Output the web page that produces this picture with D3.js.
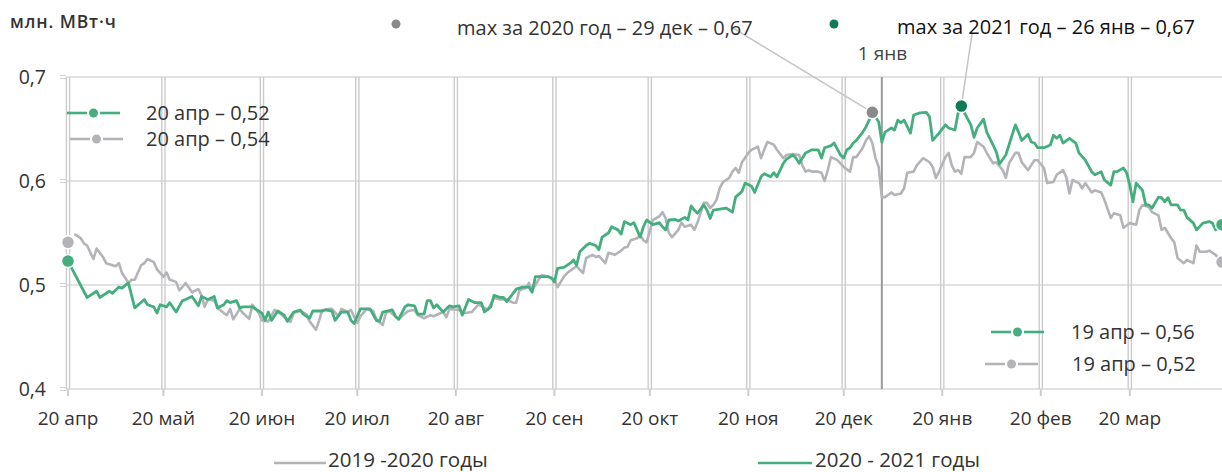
<!DOCTYPE html>
<html>
<head>
<meta charset="utf-8">
<script src="https://cdn.jsdelivr.net/npm/d3@7"></script>
<style>
  body { margin: 0; background: #fff; }
  svg { display: block; font-family: "Open Sans", "Noto Sans", sans-serif; }
</style>
</head>
<body>
<svg width="1222" height="472"></svg>
<script>
  // day offsets from 20 Apr 2020
  const greenDays = [0,6,7,9,10,13,14,16,17,19,20,21,24,25,27,28,29,31,32,34,36,37,39,41,42,44,46,47,49,50,51,53,54,55,57,58,61,62,63,64,66,68,69,71,73,74,76,77,80,81,83,84,86,88,89,90,92,95,97,98,99,102,103,104,106,107,109,110,112,113,114,115,116,118,120,121,123,124,126,128,130,131,133,134,136,137,138,140,141,143,145,146,147,149,151,152,153,154,156,158,159,160,161,163,164,166,167,168,170,171,173,174,175,177,178,179,180,181,182,184,186,187,188,189,191,192,194,195,196,197,198,200,201,202,203,205,207,209,210,212,213,215,216,218,219,221,222,223,225,226,228,229,230,232,234,236,237,238,240,241,243,244,245,246,247,248,250,251,252,253,255,256,257,259,260,261,262,263,265,266,268,270,271,272,274,276,277,279,280,281,282,284,285,286,288,289,291,292,293,295,296,298,299,300,302,303,304,305,307,309,310,311,312,313,315,317,318,320,322,323,325,326,328,329,330,332,333,334,335,336,338,339,340,341,343,344,345,346,347,349,350,351,352,354,355,357,359,360,361,363];
  const greenVals = [.523,.488,.490,.494,.488,.494,.492,.498,.497,.502,.490,.478,.486,.481,.479,.473,.481,.479,.483,.474,.485,.486,.489,.480,.489,.486,.489,.478,.481,.485,.483,.485,.478,.479,.479,.479,.473,.466,.474,.466,.475,.471,.465,.474,.476,.472,.468,.475,.475,.476,.475,.466,.474,.474,.466,.463,.477,.477,.466,.465,.474,.476,.470,.467,.479,.481,.480,.472,.472,.485,.485,.478,.481,.474,.480,.479,.480,.471,.486,.483,.483,.474,.479,.490,.488,.488,.484,.492,.496,.498,.498,.493,.508,.508,.508,.507,.503,.516,.517,.521,.524,.519,.532,.538,.540,.538,.534,.546,.550,.556,.553,.549,.561,.558,.560,.553,.546,.556,.5625,.558,.560,.556,.553,.5625,.563,.5615,.565,.5625,.576,.572,.569,.577,.572,.564,.572,.573,.574,.570,.5845,.590,.598,.595,.589,.604,.607,.604,.608,.604,.617,.621,.625,.622,.617,.627,.630,.630,.622,.632,.634,.6365,.625,.622,.630,.632,.6365,.639,.647,.652,.6585,.666,.657,.6375,.647,.651,.649,.6585,.656,.6585,.646,.6635,.6655,.666,.6615,.639,.646,.654,.651,.649,.6655,.672,.6655,.654,.642,.651,.6595,.647,.6346,.628,.6163,.625,.6346,.654,.647,.639,.645,.6375,.6365,.632,.632,.6346,.644,.641,.644,.6365,.641,.6365,.627,.620,.609,.606,.609,.601,.596,.609,.609,.6125,.608,.596,.580,.598,.591,.577,.577,.574,.5845,.584,.580,.584,.577,.577,.572,.572,.565,.5595,.553,.5595,.561,.5595,.553,.558];

  const greyDays = [2,4,5,6,8,9,11,12,14,15,16,17,19,20,21,23,24,25,27,28,30,31,32,34,35,36,37,39,41,42,43,44,46,47,49,50,51,52,54,55,57,58,60,61,63,65,67,68,70,71,73,75,76,78,79,80,82,83,85,86,88,89,91,92,94,96,97,99,100,101,104,105,107,109,110,112,114,115,118,119,120,123,125,127,129,130,132,134,136,138,140,141,142,144,145,146,148,149,151,153,154,156,157,159,160,162,163,165,166,167,169,170,172,174,175,176,177,179,180,181,182,184,186,187,188,189,190,192,193,194,196,197,198,200,201,202,203,204,205,206,208,209,210,211,212,214,215,217,218,219,220,222,223,225,226,228,230,231,232,233,234,236,237,238,239,240,242,244,246,247,248,250,251,252,253,254,255,256,257,259,260,262,263,264,266,267,269,271,272,273,274,276,277,278,279,280,281,282,284,285,286,288,289,291,292,294,295,296,298,299,300,302,304,305,307,308,310,311,313,314,315,316,318,319,320,322,323,325,326,328,329,331,332,334,336,337,338,340,341,343,344,345,347,348,349,351,352,354,355,356,358,359,361,363];
  const greyVals = [.549,.545,.540,.538,.525,.535,.527,.521,.519,.518,.521,.5115,.502,.505,.505,.519,.521,.525,.522,.515,.508,.512,.505,.503,.495,.498,.502,.493,.496,.490,.479,.486,.485,.478,.473,.471,.477,.467,.477,.473,.4675,.481,.473,.466,.465,.476,.472,.469,.4645,.473,.475,.472,.465,.457,.466,.476,.477,.477,.470,.477,.474,.476,.4635,.470,.477,.475,.467,.4615,.473,.475,.467,.470,.475,.476,.471,.468,.471,.470,.474,.469,.477,.476,.473,.474,.481,.480,.476,.4875,.486,.486,.483,.483,.495,.497,.502,.495,.505,.5095,.508,.505,.498,.508,.5115,.516,.518,.5115,.526,.529,.527,.528,.521,.531,.529,.533,.536,.5365,.543,.545,.548,.543,.541,.5625,.566,.570,.564,.550,.546,.553,.560,.556,.558,.553,.560,.579,.579,.574,.577,.582,.593,.599,.603,.609,.6125,.608,.618,.627,.630,.633,.622,.630,.6375,.635,.630,.622,.625,.626,.625,.615,.609,.6105,.609,.609,.608,.600,.6105,.623,.620,.6135,.609,.623,.623,.632,.639,.643,.6365,.622,.6135,.5845,.5845,.589,.5865,.588,.593,.608,.609,.615,.622,.618,.6135,.603,.609,.623,.627,.615,.609,.6105,.607,.623,.623,.627,.6375,.633,.627,.617,.618,.6105,.603,.617,.627,.627,.618,.6105,.620,.620,.6125,.598,.599,.606,.6105,.604,.588,.601,.598,.593,.598,.589,.591,.589,.582,.5645,.569,.567,.555,.5595,.558,.572,.577,.575,.570,.567,.553,.555,.545,.541,.526,.521,.524,.521,.538,.532,.532,.533,.529,.522];

  const greyStart = 0.541;
  const tickLabels = ["20 апр","20 май","20 июн","20 июл","20 авг","20 сен","20 окт","20 ноя","20 дек","20 янв","20 фев","20 мар"];
  const yTicks = [0.4, 0.5, 0.6, 0.7];
  const yLabels = ["0,4", "0,5", "0,6", "0,7"];
  const max2020Day = 253, max2021Day = 281, newYearDay = 256;

  const GREEN = "#45ae7f", GREY = "#b4b4b8", DARK = "#107a58", TEXT = "#333";

  const start = new Date(2020, 3, 20);
  const dayDate = d => d3.timeDay.offset(start, d);
  const x = d3.scaleTime().domain([start, dayDate(363)]).range([68, 1222]);
  const y = d3.scaleLinear().domain([0.4, 0.7]).range([389, 77]);

  const svg = d3.select("svg");

  // horizontal grid
  svg.selectAll(".hg").data(yTicks).enter().append("line")
    .attr("x1", 66).attr("x2", 1222)
    .attr("y1", d => y(d)).attr("y2", d => y(d))
    .attr("stroke", "#d9d9d9").attr("stroke-width", 1.6);
  // y tick marks
  [-1.5, 1.5].forEach(o => {
    svg.selectAll(null).data(yTicks).enter().append("line")
      .attr("x1", 60).attr("x2", 66)
      .attr("y1", d => y(d) + o).attr("y2", d => y(d) + o)
      .attr("stroke", "#cfcfcf").attr("stroke-width", 1);
  });

  // vertical grid (double lines)
  const tickDates = tickLabels.map((t, i) => new Date(2020, 3 + i, 20));
  [-1.6, 1.6].forEach(o => {
    svg.selectAll(null).data(tickDates).enter().append("line")
      .attr("x1", d => x(d) + o).attr("x2", d => x(d) + o)
      .attr("y1", 77).attr("y2", 389)
      .attr("stroke", "#cbcbcb").attr("stroke-width", 1.4);
  });
  svg.selectAll(null).data(tickDates).enter().append("line")
    .attr("x1", d => x(d)).attr("x2", d => x(d))
    .attr("y1", 389).attr("y2", 396)
    .attr("stroke", "#cdcdcd").attr("stroke-width", 2);

  // axis labels
  svg.selectAll(null).data(tickDates).enter().append("text")
    .attr("x", d => x(d)).attr("y", 425)
    .attr("text-anchor", "middle").attr("font-size", 19).attr("fill", TEXT)
    .text((d, i) => tickLabels[i]);
  svg.selectAll(null).data(yTicks).enter().append("text")
    .attr("x", 46).attr("y", d => y(d) + 7)
    .attr("text-anchor", "end").attr("font-size", 19.5).attr("fill", TEXT)
    .text((d, i) => yLabels[i]);

  svg.append("text").attr("x", 10).attr("y", 28)
    .attr("font-size", 17.5).attr("font-weight", 600).attr("fill", TEXT)
    .attr("letter-spacing", 0.9)
    .text("млн. МВт·ч");

  // 1 Jan marker
  svg.append("line")
    .attr("x1", x(dayDate(newYearDay))).attr("x2", x(dayDate(newYearDay)))
    .attr("y1", 77).attr("y2", 389)
    .attr("stroke", "#9a9a9a").attr("stroke-width", 2);
  svg.append("text").attr("x", x(dayDate(newYearDay)) - 24).attr("y", 60)
    .attr("font-size", 19).attr("fill", "#444").text("1 янв");

  // lines
  const line = d3.line().x(d => x(dayDate(d[0]))).y(d => y(d[1]));
  svg.append("path").datum(d3.zip(greyDays, greyVals))
    .attr("d", line).attr("fill", "none")
    .attr("stroke", GREY).attr("stroke-width", 2.6).attr("stroke-linejoin", "round");
  svg.append("path").datum(d3.zip(greenDays, greenVals))
    .attr("d", line).attr("fill", "none")
    .attr("stroke", GREEN).attr("stroke-width", 2.8).attr("stroke-linejoin", "round");

  // leader lines to maxima
  const g20 = greenVals[greenDays.indexOf(max2020Day)];
  const g21 = greenVals[greenDays.indexOf(max2021Day)];
  svg.append("line").attr("x1", 733).attr("y1", 28)
    .attr("x2", x(dayDate(max2020Day))).attr("y2", y(g20))
    .attr("stroke", "#c4c4c4").attr("stroke-width", 1.5);
  svg.append("line").attr("x1", 972).attr("y1", 34)
    .attr("x2", x(dayDate(max2021Day))).attr("y2", y(g21))
    .attr("stroke", "#c4c4c4").attr("stroke-width", 1.5);

  const dot = (cx, cy, r, fill, ring) => svg.append("circle")
    .attr("cx", cx).attr("cy", cy).attr("r", r).attr("fill", fill)
    .attr("stroke", ring ? "#fff" : "none").attr("stroke-width", 1.5);

  dot(x(dayDate(max2020Day)), y(g20), 6.5, "#8a8a8d", true);
  dot(x(dayDate(max2021Day)), y(g21), 6.5, DARK, true);

  // start / end points
  dot(x(dayDate(0)), y(greyStart), 6.5, GREY, true);
  dot(x(dayDate(0)), y(greenVals[0]), 6.5, GREEN, true);
  dot(x(dayDate(363)), y(greenVals[greenVals.length - 1]), 6.5, GREEN, true);
  dot(x(dayDate(363)), y(greyVals[greyVals.length - 1]), 6.5, GREY, true);

  // top annotations
  dot(396, 24, 4.5, "#8a8a8d", false);
  svg.append("text").attr("x", 457).attr("y", 35).attr("font-size", 20).attr("fill", TEXT)
    .text("max за 2020 год – 29 дек – 0,67");
  dot(834, 24, 4.5, DARK, false);
  svg.append("text").attr("x", 897).attr("y", 34).attr("font-size", 20).attr("fill", "#111")
    .text("max за 2021 год – 26 янв – 0,67");

  // endpoint legends
  const legendItem = (x0, yy, color, text, tx) => {
    svg.append("line").attr("x1", x0).attr("x2", x0 + 20).attr("y1", yy).attr("y2", yy)
      .attr("stroke", color).attr("stroke-width", 2.6);
    svg.append("line").attr("x1", x0 + 33).attr("x2", x0 + 53).attr("y1", yy).attr("y2", yy)
      .attr("stroke", color).attr("stroke-width", 2.6);
    dot(x0 + 26.5, yy, 4.5, color, false);
    svg.append("text").attr("x", tx).attr("y", yy + 7).attr("font-size", 20).attr("fill", TEXT).text(text);
  };
  legendItem(67, 113, GREEN, "20 апр – 0,52", 146);
  legendItem(70, 139, GREY, "20 апр – 0,54", 146);
  legendItem(991, 332, GREEN, "19 апр – 0,56", 1071);
  legendItem(985, 364, GREY, "19 апр – 0,52", 1072);

  // series legend
  svg.append("line").attr("x1", 274).attr("x2", 326).attr("y1", 463).attr("y2", 463)
    .attr("stroke", GREY).attr("stroke-width", 2.6);
  svg.append("text").attr("x", 328).attr("y", 467).attr("font-size", 20.5).attr("fill", TEXT)
    .text("2019 -2020 годы");
  svg.append("line").attr("x1", 758).attr("x2", 812).attr("y1", 463).attr("y2", 463)
    .attr("stroke", GREEN).attr("stroke-width", 2.6);
  svg.append("text").attr("x", 815).attr("y", 467).attr("font-size", 20.5).attr("fill", TEXT)
    .text("2020 - 2021 годы");
</script>
</body>
</html>
